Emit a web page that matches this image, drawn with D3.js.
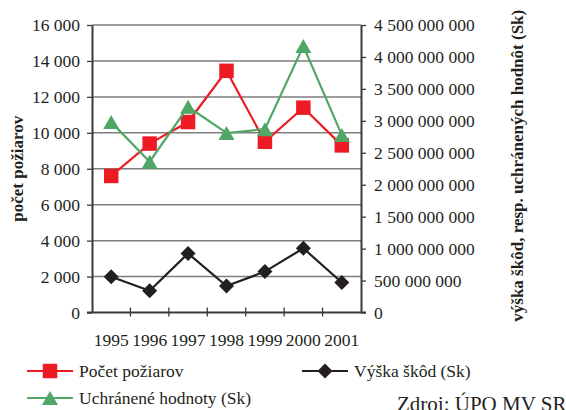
<!DOCTYPE html>
<html>
<head>
<meta charset="utf-8">
<script src="https://cdn.jsdelivr.net/npm/d3@7"></script>
<style>
  body { margin: 0; background: #fff; }
  svg text { font-family: "Liberation Serif", "DejaVu Serif", serif; fill: #231f20; }
</style>
</head>
<body>
<div id="chart"></div>
<script>
// data
const years = ["1995", "1996", "1997", "1998", "1999", "2000", "2001"];
const fires = [7600, 9400, 10600, 13450, 9500, 11400, 9300];          // left axis
const damage = [560e6, 340e6, 925e6, 415e6, 640e6, 1005e6, 470e6];    // right axis
const saved = [2.98e9, 2.36e9, 3.22e9, 2.81e9, 2.87e9, 4.17e9, 2.78e9]; // right axis
const leftTicks = [0, 2000, 4000, 6000, 8000, 10000, 12000, 14000, 16000];
const rightTicks = [0, 5e8, 1e9, 1.5e9, 2e9, 2.5e9, 3e9, 3.5e9, 4e9, 4.5e9];

const W = 566, H = 410;
const plot = {left: 92, right: 361, top: 25, bottom: 312.5};
const red = "#ed1c24", green = "#4fa666", black = "#231f20";
const serif = "'Liberation Serif', 'DejaVu Serif', serif";

const loc = d3.formatLocale({decimal: ",", thousands: " ", grouping: [3], currency: ["", ""]});
const fmt = loc.format(",");

const svg = d3.select("#chart").append("svg")
  .attr("width", W).attr("height", H)
  .attr("font-family", serif);

const x = d3.scaleBand().domain(years).range([plot.left, plot.right]).padding(0);
const yL = d3.scaleLinear().domain([0, 16000]).range([plot.bottom, plot.top]);
const yR = d3.scaleLinear().domain([0, 4.5e9]).range([plot.bottom, plot.top]);
const cx = d => x(d) + x.bandwidth() / 2;

// gridlines
svg.append("g").selectAll("line").data(leftTicks.slice(1)).enter().append("line")
  .attr("x1", plot.left).attr("x2", plot.right)
  .attr("y1", d => yL(d)).attr("y2", d => yL(d))
  .attr("stroke", "#7d7d7d").attr("stroke-width", 1.5);

// left axis
const gL = svg.append("g").attr("transform", "translate(" + plot.left + ",0)")
  .call(d3.axisLeft(yL).tickValues(leftTicks).tickFormat(fmt).tickSizeInner(5).tickSizeOuter(0).tickPadding(7));
// right axis
const gR = svg.append("g").attr("transform", "translate(" + plot.right + ",0)")
  .call(d3.axisRight(yR).tickValues(rightTicks).tickFormat(fmt).tickSizeInner(5).tickSizeOuter(0).tickPadding(8));
// bottom axis (labels only, tick marks drawn at band edges)
const gB = svg.append("g").attr("transform", "translate(0," + plot.bottom + ")")
  .call(d3.axisBottom(x).tickSize(0).tickPadding(21).tickSizeOuter(0));

[gL, gR, gB].forEach(g => {
  g.attr("font-family", serif);
  g.select(".domain").attr("stroke", "#3a3a3a").attr("stroke-width", 2);
  g.selectAll(".tick line").attr("stroke", "#3a3a3a").attr("stroke-width", 1.3);
  g.selectAll("text").attr("font-size", "17.5px").attr("fill", "#231f20");
});
gB.select(".domain").attr("d", "M" + (plot.left - 5) + ",0H" + (plot.right + 5));

svg.append("g").selectAll("line").data(years.slice(1)).enter().append("line")
  .attr("x1", d => x(d)).attr("x2", d => x(d))
  .attr("y1", plot.bottom - 5).attr("y2", plot.bottom + 4)
  .attr("stroke", "#3a3a3a").attr("stroke-width", 1.3);

// axis titles
svg.append("text")
  .attr("transform", "translate(23," + ((plot.top + plot.bottom) / 2) + ") rotate(-90)")
  .attr("text-anchor", "middle").attr("font-size", "17px").attr("font-weight", "bold")
  .text("počet požiarov");
svg.append("text")
  .attr("transform", "translate(523," + ((plot.top + plot.bottom) / 2 - 3) + ") rotate(-90)")
  .attr("text-anchor", "middle").attr("font-size", "17px").attr("font-weight", "bold")
  .text("výška škôd, resp. uchránených hodnôt (Sk)");

// markers
const sq = d3.symbol().type(d3.symbolSquare).size(210);
function dia(px, py) {
  const r = 7.5;
  return "M" + px + "," + (py - r) + "L" + (px + r) + "," + py + "L" + px + "," + (py + r) + "L" + (px - r) + "," + py + "Z";
}
function tri(px, py) {
  const w = 8, h = 14;
  return "M" + px + "," + (py - h / 2) + "L" + (px + w) + "," + (py + h / 2) + "L" + (px - w) + "," + (py + h / 2) + "Z";
}
function marker(kind, px, py) {
  if (kind === "tri") return tri(px, py);
  if (kind === "dia") return dia(px, py);
  return sq().replace(/(-?\d+\.?\d*),(-?\d+\.?\d*)/g, (m, a, b) => (+a + px) + "," + (+b + py));
}

function series(vals, scale, color, kind) {
  const g = svg.append("g");
  const line = d3.line().x((d, i) => cx(years[i])).y(d => scale(d));
  g.append("path").attr("d", line(vals)).attr("fill", "none")
    .attr("stroke", color).attr("stroke-width", 2.2);
  g.selectAll("path.m").data(vals).enter().append("path").attr("class", "m")
    .attr("fill", color)
    .attr("d", (d, i) => marker(kind, cx(years[i]), scale(d)));
}
series(fires, yL, red, "sq");
series(damage, yR, black, "dia");
series(saved, yR, green, "tri");

// legend
const legend = [
  {name: "Počet požiarov", color: red, kind: "sq", x: 27, y: 371},
  {name: "Uchránené hodnoty (Sk)", color: green, kind: "tri", x: 27, y: 398},
  {name: "Výška škôd (Sk)", color: black, kind: "dia", x: 302, y: 371}
];
legend.forEach(l => {
  const g = svg.append("g");
  g.append("line").attr("x1", l.x).attr("x2", l.x + 46).attr("y1", l.y).attr("y2", l.y)
    .attr("stroke", l.color).attr("stroke-width", 2.2);
  g.append("path").attr("d", marker(l.kind, l.x + 23, l.y)).attr("fill", l.color);
  g.append("text").attr("x", l.x + 52).attr("y", l.y + 6).attr("font-size", "17.5px").text(l.name);
});

svg.append("text").attr("x", 397).attr("y", 411).attr("font-size", "21px").text("Zdroj: ÚPO MV SR");
</script>
</body>
</html>
